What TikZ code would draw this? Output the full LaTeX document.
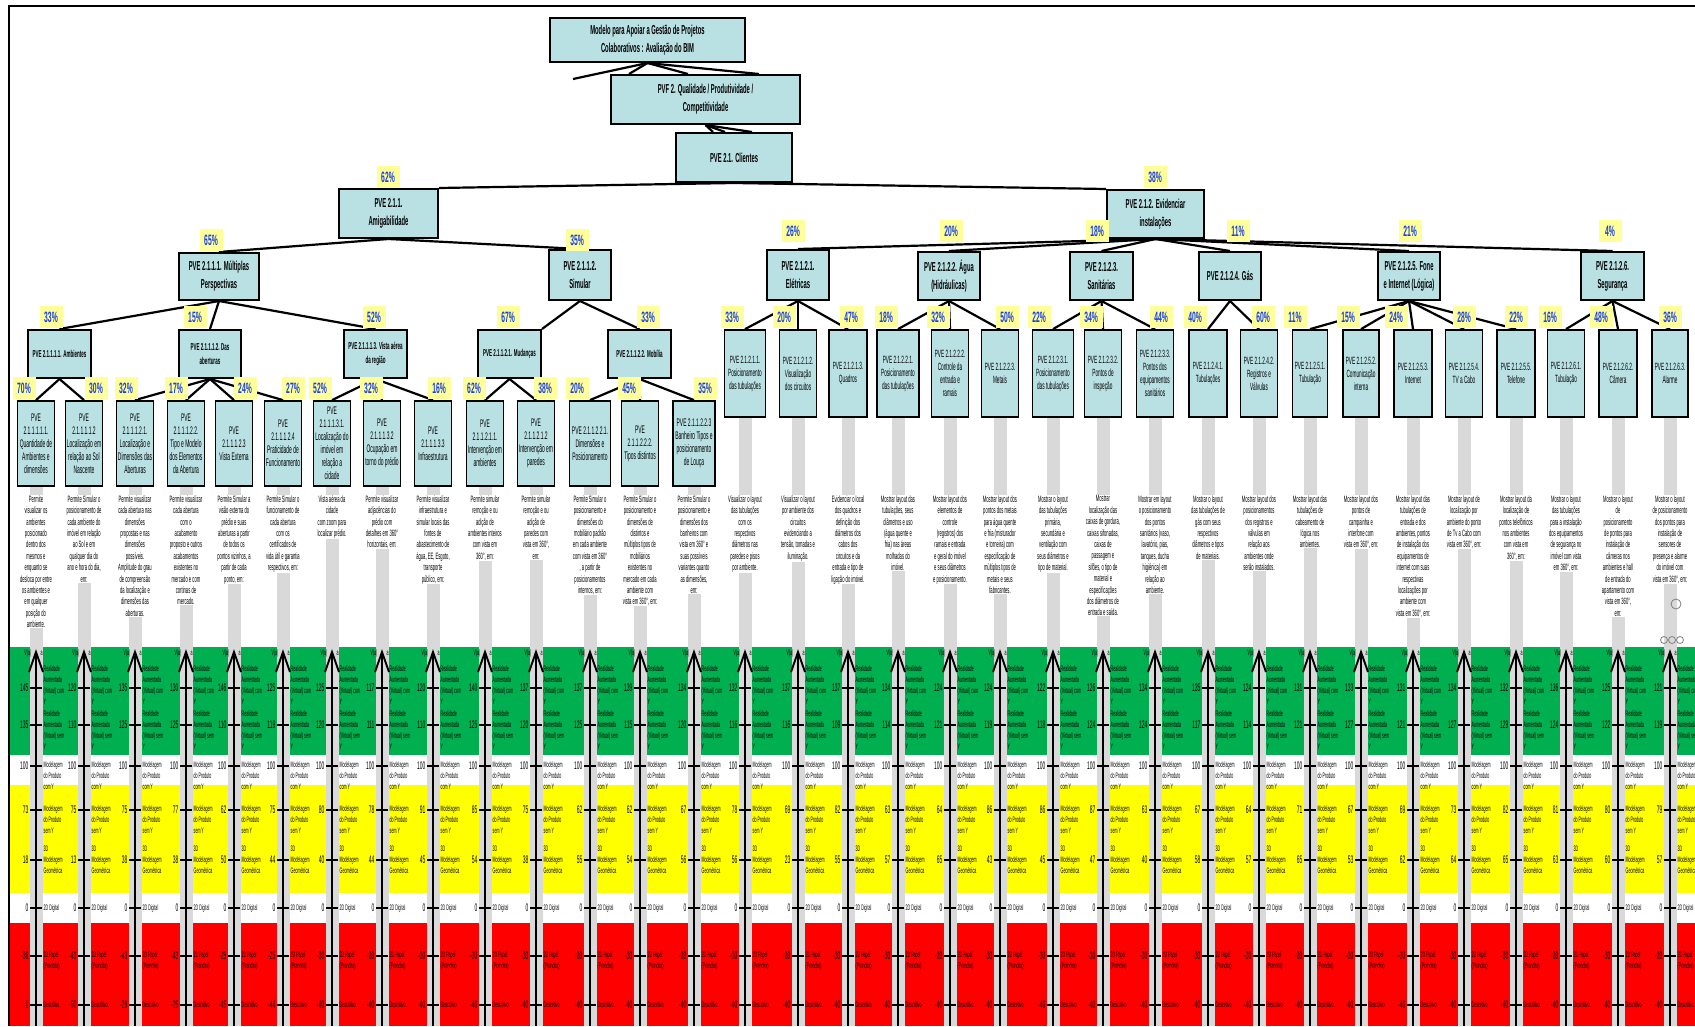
\documentclass[tikz,border=0pt]{standalone}
\usepackage{fontspec}
\setmainfont{Liberation Sans}
\newfontfamily\nb[FakeStretch=0.45]{Liberation Sans}
\usetikzlibrary{calc}
\definecolor{boxc}{RGB}{185,225,228}
\definecolor{pctbg}{RGB}{255,255,153}
\definecolor{pcttx}{RGB}{20,60,235}
\definecolor{bandg}{RGB}{0,176,80}
\definecolor{bandy}{RGB}{255,255,0}
\definecolor{bandr}{RGB}{255,0,0}
\definecolor{barc}{RGB}{217,217,217}
\pgfdeclarelayer{bg}
\pgfsetlayers{bg,main}
\begin{document}
\begin{tikzpicture}[x=1pt,y=-1pt,
 box/.style={draw=black,line width=2pt,fill=boxc,align=center,inner sep=1pt},
 topbox/.style={box,font=\nb\bfseries\fontsize{13}{18}\selectfont},
 midbox/.style={box,font=\nb\bfseries\fontsize{10}{14}\selectfont},
 leafL/.style={box,line width=1.8pt,font=\nb\fontsize{11}{13}\selectfont,minimum height=85},
 leafR/.style={box,line width=1.8pt,font=\nb\fontsize{10.5}{13}\selectfont,minimum height=87},
 pct/.style={fill=pctbg,text=pcttx,font=\nb\bfseries\fontsize{15}{15}\selectfont,inner sep=0pt,minimum width=23,minimum height=22},
 conn/.style={line width=2.2pt,black},
 desc/.style={fill=white,inner sep=0.4pt,align=center,anchor=north,font=\nb\fontsize{9.2}{11.4}\selectfont},
 axisl/.style={line width=1.9pt,black},
 tickl/.style={line width=1.6pt,black},
 num/.style={font=\nb\fontsize{11}{11}\selectfont,inner sep=0.5pt,anchor=east},
 lab/.style={font=\nb\fontsize{8}{10.8}\selectfont,inner sep=0.5pt,align=left}]
\useasboundingbox (0,0) rectangle (1695,1026);

% ---- upper hierarchy
\node[topbox,minimum width=195,minimum height=44] (root) at (647.5,40) {Modelo para Apoiar a Gestão de Projetos\\Colaborativos : Avaliação do BIM};
\node[topbox,minimum width=189,minimum height=49] (pvf) at (705.5,99.5) {PVF 2. Qualidade / Produtividade /\\Competitividade};
\node[topbox,minimum width=116,minimum height=49] (cli) at (734,157.5) {PVE 2.1. Clientes};
\node[topbox,minimum width=99,minimum height=49] (amig) at (388.5,213.5) {PVE 2.1.1.\\Amigabilidade};
\node[topbox,minimum width=97,minimum height=48] (evid) at (1155.5,214) {PVE 2.1.2. Evidenciar\\instalações};

\node[topbox,minimum width=80,minimum height=47] (mult) at (219,276.5) {PVE 2.1.1.1. Múltiplas\\Perspectivas};
\node[topbox,minimum width=62,minimum height=50] (sim) at (580,275) {PVE 2.1.1.2.\\Simular};
\node[topbox,minimum width=62,minimum height=50] (ele) at (798,275) {PVE 2.1.2.1.\\Elétricas};
\node[topbox,minimum width=62,minimum height=48] (agu) at (949,276) {PVE 2.1.2.2. Água\\(Hidráulicas)};
\node[topbox,minimum width=63,minimum height=48] (san) at (1101.5,276) {PVE 2.1.2.3.\\Sanitárias};
\node[topbox,minimum width=62,minimum height=48] (gas) at (1230,276) {PVE 2.1.2.4. Gás};
\node[topbox,minimum width=62,minimum height=48] (fon) at (1409,276) {PVE 2.1.2.5. Fone\\e Internet (Lógica)};
\node[topbox,minimum width=63,minimum height=48] (seg) at (1612.5,276) {PVE 2.1.2.6.\\Segurança};

\node[midbox,minimum width=63,minimum height=48] (amb) at (59.5,354) {PVE 2.1.1.1.1. Ambientes};
\node[midbox,minimum width=62,minimum height=48] (abe) at (210,354) {PVE 2.1.1.1.2. Das\\aberturas};
\node[midbox,minimum width=63,minimum height=48] (vis) at (375.5,354) {PVE 2.1.1.1.3. Vista aérea\\da região};
\node[midbox,minimum width=63,minimum height=48] (mud) at (509.5,354) {PVE 2.1.1.2.1. Mudanças};
\node[midbox,minimum width=63,minimum height=48] (mob) at (639.5,354) {PVE 2.1.1.2.2. Mobília};

% ---- leaves
\foreach \i/\x/\w/\t in {
1/36/37/{PVE\\2.1.1.1.1.1.\\Quantidade de\\Ambientes e\\dimensões},
2/84/37/{PVE\\2.1.1.1.1.2\\Localização em\\relação ao Sol\\Nascente},
3/135/37/{PVE\\2.1.1.1.2.1.\\Localização e\\Dimensões das\\Aberturas},
4/186/37/{PVE\\2.1.1.1.2.2.\\Tipo e Modelo\\dos Elementos\\da Abertura},
5/234/37/{PVE\\2.1.1.1.2.3\\Vista Externa},
6/283/37/{PVE\\2.1.1.1.2.4\\Praticidade de\\Funcionamento},
7/332/37/{PVE\\2.1.1.1.3.1.\\Localização do\\imóvel em\\relação a\\cidade},
8/382/37/{PVE\\2.1.1.1.3.2\\Ocupação em\\torno do prédio},
9/433/37/{PVE\\2.1.1.1.3.3\\Infraestrutura},
10/485/37/{PVE\\2.1.1.2.1.1.\\Intervenção em\\ambientes},
11/536/37/{PVE\\2.1.1.2.1.2\\Intervenção em\\paredes},
12/590/41/{PVE 2.1.1.2.2.1.\\Dimensões e\\Posicionamento},
13/640/37/{PVE\\2.1.1.2.2.2.\\Tipos distintos},
14/694/42/{PVE 2.1.1.2.2.3\\Banheiro Tipos e\\posicionamento\\de Louça}}
{\node[leafL,minimum width=\w] (l\i) at (\x,443.5) {\t};}

\foreach \i/\x/\w/\t in {
15/745/41/{PVE 2.1.2.1.1.\\Posicionamento\\das tubulações},
16/798/37/{PVE 2.1.2.1.2.\\Visualização\\dos circuitos},
17/848/38/{PVE 2.1.2.1.3.\\Quadros},
18/898/42/{PVE 2.1.2.2.1.\\Posicionamento\\das tubulações},
19/950/37/{PVE 2.1.2.2.2.\\Controle da\\entrada e\\ramais},
20/1000/37/{PVE 2.1.2.2.3.\\Metais},
21/1053/41/{PVE 2.1.2.3.1.\\Posicionamento\\das tubulações},
22/1103/37/{PVE 2.1.2.3.2.\\Pontos de\\inspeção},
23/1155/37/{PVE 2.1.2.3.3.\\Pontos dos\\equipamentos\\sanitários},
24/1208/38/{PVE 2.1.2.4.1.\\Tubulações},
25/1259/37/{PVE 2.1.2.4.2.\\Registros e\\Válvulas},
26/1310/35/{PVE 2.1.2.5.1.\\Tubulação},
27/1361/36/{PVE 2.1.2.5.2.\\Comunicação\\interna},
28/1413/38/{PVE 2.1.2.5.3.\\Internet},
29/1464/37/{PVE 2.1.2.5.4.\\TV a Cabo},
30/1516/38/{PVE 2.1.2.5.5.\\Telefone},
31/1566/37/{PVE 2.1.2.6.1.\\Tubulação},
32/1618/38/{PVE 2.1.2.6.2.\\Câmera},
33/1670/36/{PVE 2.1.2.6.3.\\Alarme}}
{\node[leafR,minimum width=\w] (l\i) at (\x,373.5) {\t};}

% ---- background: bands, bars, connectors
\begin{pgfonlayer}{bg}
\fill[white] (0,0) rectangle (1695,1026);
\fill[bandg] (9,647) rectangle (1695,755);
\fill[bandy] (9,785) rectangle (1695,893);
\fill[bandr] (9,923) rectangle (1695,1026);
\foreach \i in {1,...,33}
  \fill[barc] ($(l\i.south)+(-6.5,0)$) rectangle ($(l\i.south |- 0,1026)+(6.5,0)$);
\coordinate (rootfree) at (573,79);
\draw[conn] (root.south) -- (rootfree);
\draw[conn] (root.south) -- (pvf.north -| 629,0);
\draw[conn] (root.south) -- (pvf.north -| 688,0);
\draw[conn] (root.south) -- (pvf.north -| 759,0);
\draw[conn] (pvf.south) -- (cli.north -| 713,0);
\draw[conn] (pvf.south) -- (cli.north -| 725,0);
\draw[conn] (pvf.south) -- (cli.north -| 752,0);
\draw[conn] (cli.south) -- (amig.north east);
\draw[conn] (cli.south) -- (evid.north west);
\draw[conn] (amig.south) -- (mult.north);
\draw[conn] (amig.south) -- (sim.north);
\foreach \t in {ele,agu,san,gas,fon,seg} \draw[conn] (evid.south) -- (\t.north);
\foreach \t in {amb,abe,vis} \draw[conn] (mult.south) -- (\t.north);
\draw[conn] (sim.south) -- (mud.north east);
\draw[conn] (sim.south) -- (mob.north);
\foreach \p/\k in {amb/1,amb/2,abe/3,abe/4,abe/5,abe/6,vis/7,vis/8,vis/9,mud/10,mud/11,mob/12,mob/13,mob/14,
  ele/15,ele/16,ele/17,agu/18,agu/19,agu/20,san/21,san/22,san/23,gas/24,gas/25,
  fon/26,fon/27,fon/28,fon/29,fon/30,seg/31,seg/32,seg/33}
  \draw[conn] (\p.south) -- (l\k.north);
\end{pgfonlayer}

% ---- frame
\draw[line width=2.5pt] (9,1026) -- (9,6) -- (1695,6);

% ---- percentages
\foreach \n/\x/\y/\v in {
a/388/177/62, b/1155/177/38,
c/211/240/65, d/577/240/35, e/793/231/26, f/951/231/20, g/1097/231/18, h/1238/231/11, i/1410/231/21, j/1610/231/4,
k/51/317/33, l/195/317/15, m/374/317/52, n/508/317/67, o/648/317/33,
p1/24/388/70, p2/96/388/30, p3/126/388/32, p4/176/388/17, p5/245/388/24, p6/293/388/27, p7/320/388/52,
p8/371/388/32, p9/439/388/16, p10/474/388/62, p11/545/388/38, p12/577/388/20, p13/629/388/45, p14/705/388/35,
p15/732/317/33, p16/784/317/20, p17/851/317/47, p18/886/317/18, p19/938/317/32, p20/1007/317/50,
p21/1039/317/22, p22/1091/317/34, p23/1161/317/44, p24/1195/317/40, p25/1263/317/60, p26/1295/317/11,
p27/1348/317/15, p28/1396/317/24, p29/1464/317/28, p30/1516/317/22, p31/1550/317/16, p32/1601/317/48, p33/1670/317/36}
  \node[pct] (pc\n) at (\x,\y) {\v\%};

% ---- descriptions
\foreach \i/\t in {
1/{Permite\\visualizar os\\ambientes\\posicionado\\dentro dos\\mesmos e\\enquanto se\\desloca por entre\\os ambientes e\\em qualquer\\posição do\\ambiente.},
2/{Permite Simular o\\posicionamento de\\cada ambiente do\\imóvel em relação\\ao Sol e em\\qualquer dia do\\ano e hora do dia,\\em:},
3/{Permite visualizar\\cada abertura nas\\dimensões\\propostas e nas\\dimensões\\possíveis.\\Amplitude do grau\\de compreensão\\da localização e\\dimensões das\\aberturas.},
4/{Permite visualizar\\cada abertura\\com o\\acabamento\\proposto e outros\\acabamentos\\existentes no\\mercado e com\\cortinas de\\mercado.},
5/{Permite Simular a\\visão externa do\\prédio e suas\\aberturas a partir\\de todos os\\pontos vizinhos, a\\partir de cada\\ponto, em:},
6/{Permite Simular o\\funcionamento de\\cada abertura\\com os\\certificados de\\vida útil e garantia\\respectivos, em:},
7/{Vista aérea da\\cidade\\com zoom para\\localizar prédio.},
8/{Permite visualizar\\adjacências do\\prédio com\\detalhes em 360°\\horizontais, em:},
9/{Permite visualizar\\infraestrutura e\\simular locais das\\fontes de\\abastecimento de\\água, EE, Esgoto,\\transporte\\público, em:},
10/{Permite simular\\remoção e ou\\adição de\\ambientes inteiros\\com vista em\\360°, em:},
11/{Permite simular\\remoção e ou\\adição de\\paredes com\\vista em 360°,\\em:},
12/{Permite Simular o\\posicionamento e\\dimensões do\\mobiliário padrão\\em cada ambiente\\com vista em 360°\\, a partir de\\posicionamentos\\internos, em:},
13/{Permite Simular o\\posicionamento e\\dimensões de\\distintos e\\múltiplos tipos de\\mobiliários\\existentes no\\mercado em cada\\ambiente com\\vista em 360°, em:},
14/{Permite Simular o\\posicionamento e\\dimensões dos\\banheiros com\\vista em 360° e\\suas possíveis\\variantes quanto\\as dimensões,\\em:},
15/{Visualizar o layout\\das tubulações\\com os\\respectivos\\diâmetros nas\\paredes e pisos\\por ambiente.},
16/{Visualizar o layout\\por ambiente dos\\circuitos\\evidenciando a\\tensão, tomadas e\\iluminação.},
17/{Evidenciar o local\\dos quadros e\\definição dos\\diâmetros dos\\cabos dos\\circuitos e da\\entrada e tipo de\\ligação do imóvel.},
18/{Mostrar layout das\\tubulações, seus\\diâmetros e uso\\(água quente e\\fria) nas áreas\\molhadas do\\imóvel.},
19/{Mostrar layout dos\\elementos de\\controle\\(registros) dos\\ramais e entrada\\e geral do imóvel\\e seus diâmetros\\e posicionamento.},
20/{Mostrar layout dos\\pontos dos metais\\para água quente\\e fria (misturador\\e torneira) com\\especificação de\\múltiplos tipos de\\metais e seus\\fabricantes.},
21/{Mostrar o layout\\das tubulações\\primária,\\secundária e\\ventilação com\\seus diâmetros e\\tipo de material.},
22/{Mostrar\\localização das\\caixas de gordura,\\caixas sifonadas,\\caixas de\\passagem e\\sifões, o tipo de\\material e\\especificações\\dos diâmetros de\\entrada e saída.},
23/{Mostrar em layout\\o posicionamento\\dos pontos\\sanitários (vaso,\\lavatório, pias,\\tanques, ducha\\higiênica) em\\relação ao\\ambiente.},
24/{Mostrar o layout\\das tubulações de\\gás com seus\\respectivos\\diâmetros e tipos\\de materiais.},
25/{Mostrar layout dos\\posicionamentos\\dos registros e\\válvulas em\\relação aos\\ambientes onde\\serão instalados.},
26/{Mostrar layout das\\tubulações de\\cabeamento de\\lógica nos\\ambientes.},
27/{Mostrar layout dos\\pontos de\\campainha e\\interfone com\\vista em 360°, em:},
28/{Mostrar layout das\\tubulações de\\entrada e dos\\ambientes, pontos\\de instalação dos\\equipamentos de\\internet com suas\\respectivas\\localizações por\\ambiente com\\vista em 360°, em:},
29/{Mostrar layout de\\localização por\\ambiente do ponto\\de Tv a Cabo com\\vista em 360°, em:},
30/{Mostrar layout da\\localização de\\pontos telefônicos\\nos ambientes\\com vista em\\360°, em:},
31/{Mostrar o layout\\das tubulações\\para a instalação\\dos equipamentos\\de segurança no\\imóvel com vista\\em 360°, em:},
32/{Mostrar o layout\\de\\posicionamento\\de pontos para\\instalação de\\câmeras nos\\ambientes e hall\\de entrada do\\apartamento com\\vista em 360°,\\em:},
33/{Mostrar o layout\\de posicionamento\\dos pontos para\\instalação de\\sensores de\\presença e alarme\\do imóvel com\\vista em 360°, em:}}
  \node[desc] (d\i) at (l\i.south |- 0,495) {\t};

% ---- small widget marks
\draw[gray,line width=0.8pt] (1676,604) circle (5);
\foreach \k/\x in {1/1664,2/1672,3/1680} \draw[gray,line width=0.8pt] (\x,640) circle (3.5);

% ---- axes
\foreach \i/\qa/\qb/\qc/\qd/\qe/\qf/\qg/\qh in {
1/145/135/100/73/18/0/-36/1,
2/120/110/100/75/13/0/-43/-50,
3/135/125/100/75/38/0/-43/-29,
4/130/125/100/77/38/0/-43/-25,
5/146/110/100/62/50/0/-25/-45,
6/125/119/100/75/44/0/-25/-44,
7/125/120/100/80/40/0/-30/-40,
8/117/111/100/78/44/0/-30/-40,
9/120/110/100/91/45/0/-30/-40,
10/140/125/100/85/54/0/-30/-40,
11/137/120/100/75/38/0/-30/-40,
12/137/125/100/62/55/0/-30/-40,
13/139/115/100/62/54/0/-30/-40,
14/134/120/100/67/56/0/-30/-40,
15/132/116/100/78/56/0/-30/-40,
16/137/116/100/69/23/0/-30/-40,
17/137/109/100/82/55/0/-30/-40,
18/134/114/100/63/57/0/-30/-40,
19/124/121/100/64/65/0/-30/-40,
20/124/119/100/86/43/0/-30/-40,
21/122/118/100/86/45/0/-30/-40,
22/126/124/100/87/47/0/-30/-40,
23/134/124/100/63/40/0/-30/-40,
24/135/117/100/67/58/0/-30/-40,
25/124/114/100/64/57/0/-30/-40,
26/131/121/100/71/65/0/-30/-40,
27/133/127/100/67/53/0/-30/-40,
28/131/121/100/69/62/0/-30/-40,
29/134/127/100/73/64/0/-30/-40,
30/132/129/100/82/65/0/-30/-40,
31/136/124/100/81/63/0/-30/-40,
32/125/122/100/80/60/0/-30/-40,
33/121/119/100/79/57/0/-30/-40}
{
\begin{scope}[shift={(l\i.center |- 0,0)}]
  \coordinate (ab\i) at (0,1026);
  \coordinate (at\i) at (0,652);
  \draw[axisl] (ab\i) -- (at\i);
  \draw[axisl,line join=miter] (-7,672) -- (at\i) -- (7,672);
  \foreach \yy/\vv in {688/\qa,725/\qb,766/\qc,810/\qd,860/\qe,908/\qf,956/\qg,1005/\qh}{
    \draw[tickl] (-6,\yy) -- (6,\yy);
    \node[num] (v\i-\yy) at (-7,\yy) {\vv};
  }
  \node[lab,anchor=east] (va\i) at (-4,653) {V(a)};
  \node[lab,anchor=west] (vb\i) at (4,653) {a};
  \node[lab,anchor=west] (ra\i) at (7,685) {Realidade\\Aumentada\\(Virtual) com\\Y};
  \node[lab,anchor=west] (rb\i) at (7,730) {Realidade\\Aumentada\\(Virtual) sem\\Y};
  \node[lab,anchor=north west] (rc\i) at (7,761) {Modelagem\\do Produto\\com Y};
  \node[lab,anchor=north west] (rd\i) at (7,805) {Modelagem\\do Produto\\sem Y};
  \node[lab,anchor=west] (re\i) at (7,860) {3D\\Modelagem\\Geométrica};
  \node[lab,anchor=west] (rf\i) at (7,908) {2D Digital};
  \node[lab,anchor=north west] (rg\i) at (7,951) {2D Papel\\(Prancha)};
  \node[lab,anchor=west] (rh\i) at (7,1005) {Descritivo};
\end{scope}
}
\end{tikzpicture}
\end{document}
